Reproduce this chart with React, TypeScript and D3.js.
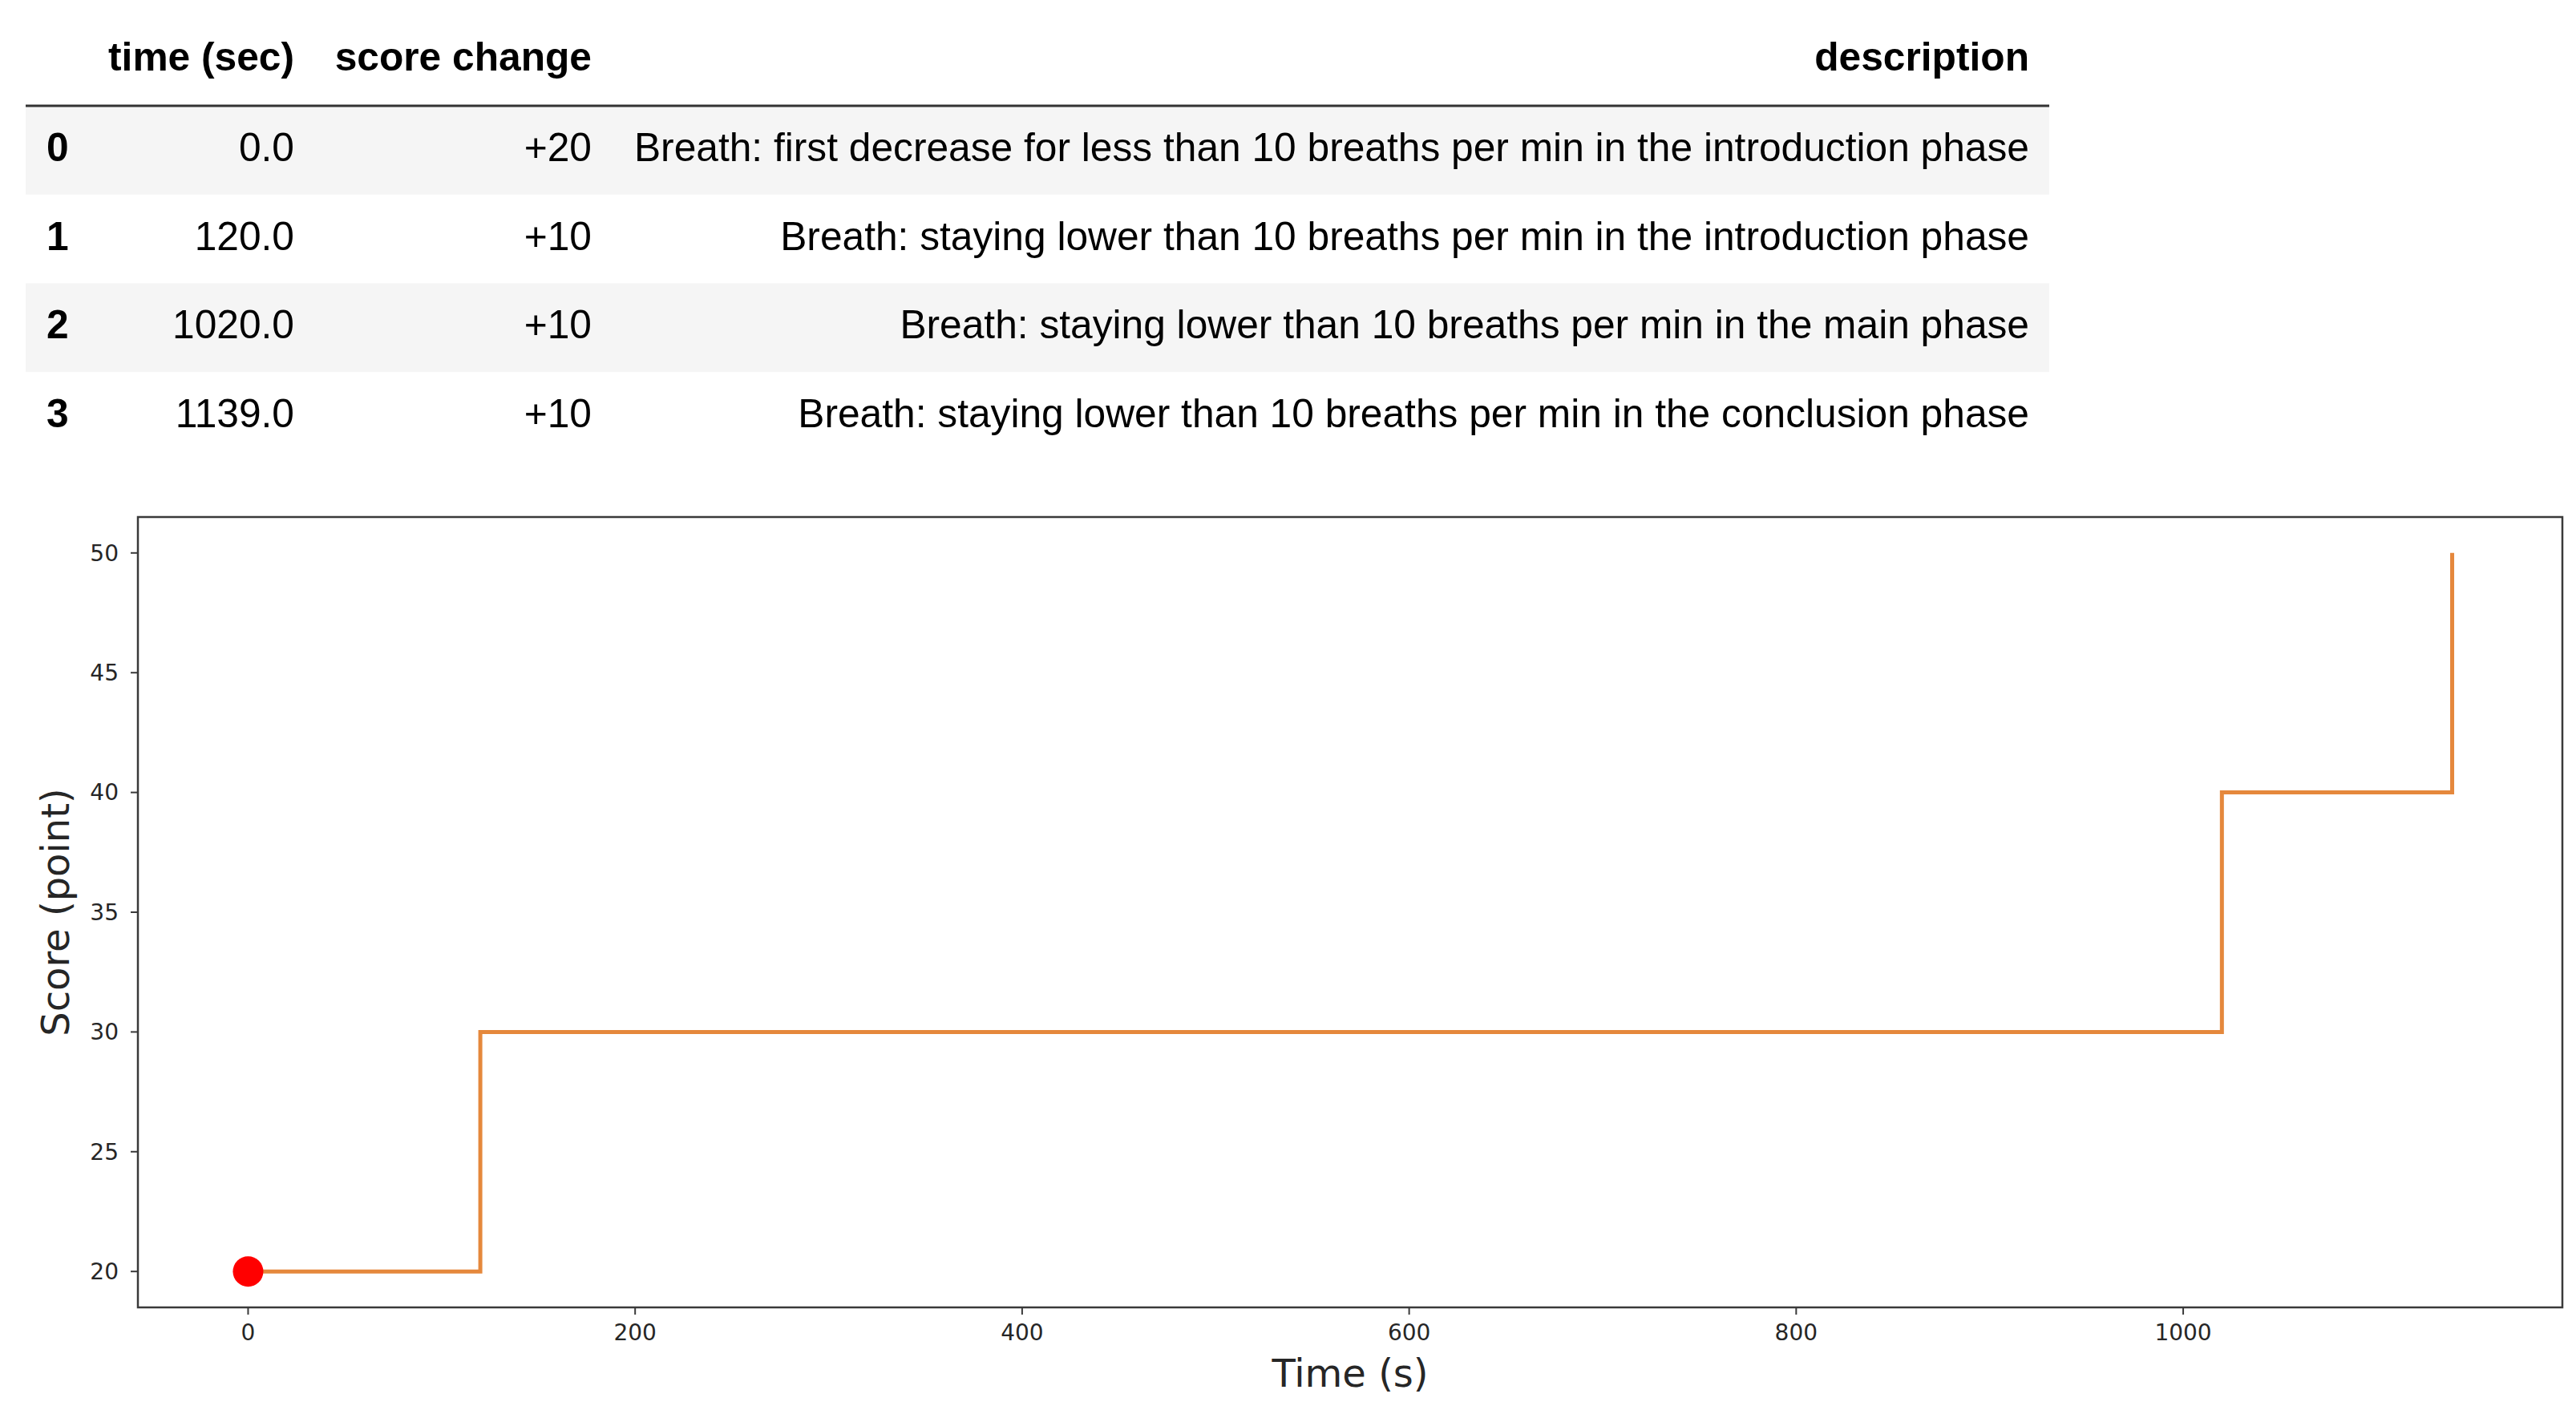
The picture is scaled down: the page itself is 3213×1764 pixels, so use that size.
import React from 'react';
import * as d3 from 'd3';

// table / series data
const rowIndex = [0, 1, 2, 3];
const times = [0, 120, 1020, 1139];
const scoreChanges = [20, 10, 10, 10];
const descriptions = [
  'Breath: first decrease for less than 10 breaths per min in the introduction phase',
  'Breath: staying lower than 10 breaths per min in the introduction phase',
  'Breath: staying lower than 10 breaths per min in the main phase',
  'Breath: staying lower than 10 breaths per min in the conclusion phase',
];
const columnHeaders = ['time (sec)', 'score change', 'description'];
const xTickValues = [0, 200, 400, 600, 800, 1000];
const yTickValues = [20, 25, 30, 35, 40, 45, 50];
const xLabel = 'Time (s)';
const yLabel = 'Score (point)';

const W = 3213;
const H = 1764;
const plot = { left: 172, right: 3196, top: 645, bottom: 1631 };
const tableFont = '"Liberation Sans", Arial, Helvetica, sans-serif';
const chartFont = '"DejaVu Sans", sans-serif';

function App() {
  const scores = Array.from(d3.cumsum(scoreChanges));
  const points = times.map((t, i) => [t, scores[i]] as [number, number]);

  // matplotlib-like 5% margins
  const [xMin, xMax] = d3.extent(times) as [number, number];
  const [yMin, yMax] = d3.extent(scores) as [number, number];
  const xPad = (xMax - xMin) * 0.05;
  const yPad = (yMax - yMin) * 0.05;

  const xScale = d3.scaleLinear().domain([xMin - xPad, xMax + xPad]).range([plot.left, plot.right]);
  const yScale = d3.scaleLinear().domain([yMin - yPad, yMax + yPad]).range([plot.bottom, plot.top]);

  const stepLine = d3
    .line<[number, number]>()
    .x((d) => xScale(d[0]))
    .y((d) => yScale(d[1]))
    .curve(d3.curveStepAfter);

  const fmtTime = d3.format('.1f');
  const fmtChange = d3.format('+d');

  // table geometry
  const tableLeft = 32;
  const tableRight = 2556;
  const headerLineY = 132;
  const rowH = 110.7;
  const colRight = [367, 738, 2531];

  return (
    <svg
      width={W}
      height={H}
      style={{ position: 'absolute', left: 0, top: 0, background: '#fff' }}
    >
      <rect x={0} y={0} width={W} height={H} fill="#fff" />

      {/* table */}
      <g fontFamily={tableFont} fontSize={49.7} fill="#000">
        {columnHeaders.map((h, i) => (
          <text key={h} x={colRight[i]} y={88} textAnchor="end" fontWeight="bold">
            {h}
          </text>
        ))}
        {rowIndex.map((r, i) => {
          const top = headerLineY + i * rowH;
          const base = top + 69;
          return (
            <g key={r}>
              {i % 2 === 0 && (
                <rect x={tableLeft} y={top} width={tableRight - tableLeft} height={rowH} fill="#f5f5f5" />
              )}
              <text x={58} y={base} fontWeight="bold">{r}</text>
              <text x={colRight[0]} y={base} textAnchor="end">{fmtTime(times[i])}</text>
              <text x={colRight[1]} y={base} textAnchor="end">{fmtChange(scoreChanges[i])}</text>
              <text x={colRight[2]} y={base} textAnchor="end">{descriptions[i]}</text>
            </g>
          );
        })}
        <line x1={tableLeft} x2={tableRight} y1={headerLineY} y2={headerLineY} stroke="#333" strokeWidth={3} />
      </g>

      {/* chart */}
      <g fontFamily={chartFont} fill="#262626">
        <path d={stepLine(points) || ''} fill="none" stroke="#e5883c" strokeWidth={5} />
        <circle cx={xScale(times[0])} cy={yScale(scores[0])} r={19} fill="#ff0000" />

        <rect
          x={plot.left}
          y={plot.top}
          width={plot.right - plot.left}
          height={plot.bottom - plot.top}
          fill="none"
          stroke="#3a3a3a"
          strokeWidth={2.5}
        />

        {xTickValues.map((t) => (
          <g key={t} transform={`translate(${xScale(t)},${plot.bottom})`}>
            <line y1={0} y2={9} stroke="#3a3a3a" strokeWidth={2} />
            <text y={41} textAnchor="middle" fontSize={28}>{t}</text>
          </g>
        ))}
        {yTickValues.map((t) => (
          <g key={t} transform={`translate(${plot.left},${yScale(t)})`}>
            <line x1={0} x2={-9} stroke="#3a3a3a" strokeWidth={2} />
            <text x={-24} dy="0.35em" textAnchor="end" fontSize={28}>{t}</text>
          </g>
        ))}

        <text x={(plot.left + plot.right) / 2} y={1730} textAnchor="middle" fontSize={48}>
          {xLabel}
        </text>
        <text
          transform={`translate(86,${(plot.top + plot.bottom) / 2}) rotate(-90)`}
          textAnchor="middle"
          fontSize={48}
        >
          {yLabel}
        </text>
      </g>
    </svg>
  );
}

export default App;
